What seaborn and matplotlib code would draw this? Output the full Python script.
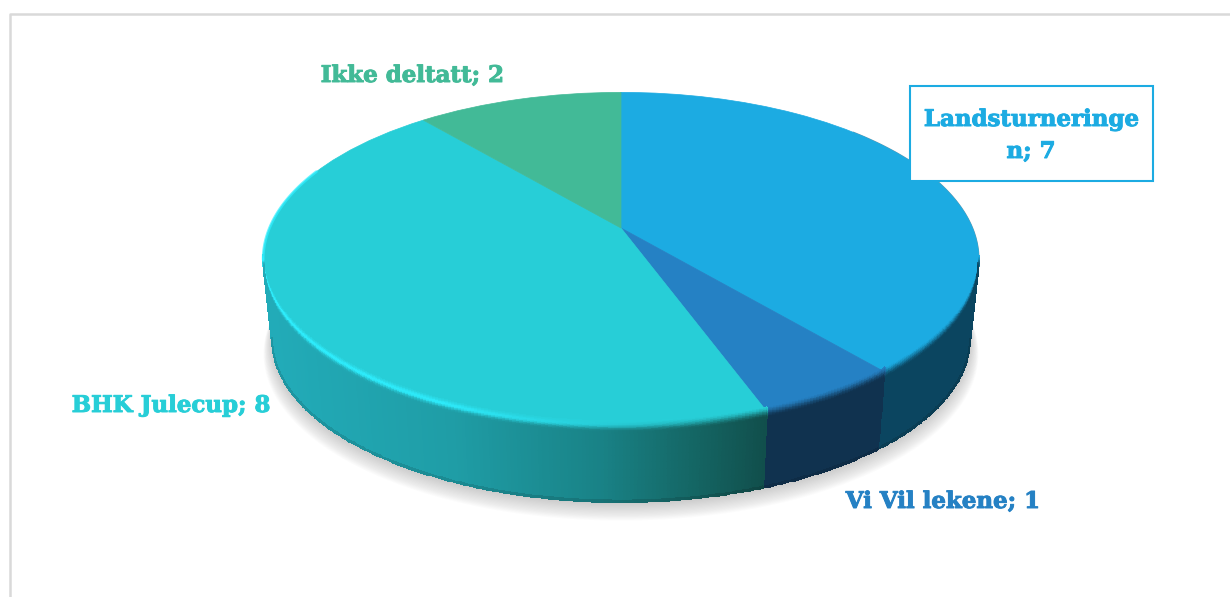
import numpy as np
import matplotlib
matplotlib.use("Agg")
import matplotlib.pyplot as plt
import matplotlib.patheffects as pe
import seaborn as sns
from matplotlib.colors import to_rgb
from matplotlib.patches import Rectangle
from matplotlib.transforms import Transform

categories = ['Landsturneringen', 'Vi Vil lekene', 'BHK Julecup', 'Ikke deltatt']
values = [7, 1, 8, 2]
top_colors = ['#1CABE2', '#2581C4', '#27CED7', '#42BA97']
wall_colors = ['#0B4560', '#10324F', '#1E9EA8', '#2A8C70']
wall_fade = ['#22ABB8', '#1F9DA6', '#198286', '#146462', '#114F4C']

sns.set_theme(style="white")
plt.rcParams['font.family'] = ['DejaVu Serif', 'DejaVu Sans']

# geometrie for den skraa kaken, i piksler
CX, CY = 621.0, 228.0
KX, KY, K = 351.5, 161.0, 0.187
BOTTOM_SCALE, BOTTOM_DROP = 0.975, 81.0


def project(u, v, scale=1.0, drop=0.0):
    d = 1 + K * v
    return CX + scale * KX * u / d, CY + drop - scale * KY * v / d


def rim(theta, scale=1.0, drop=0.0):
    # theta i grader, med klokka fra toppen
    t = np.radians(theta)
    return project(np.sin(t), np.cos(t), scale, drop)


class TiltTransform(Transform):
    input_dims = 2
    output_dims = 2

    def transform_non_affine(self, xy):
        xy = np.asarray(xy, dtype=float)
        x, y = project(xy[:, 0], xy[:, 1])
        return np.column_stack([x, y])


fig, ax = plt.subplots(figsize=(12.3, 5.97), dpi=100)
fig.subplots_adjust(0, 0, 1, 1)

wedges, _ = ax.pie(values, colors=sns.color_palette(top_colors), startangle=90,
                   counterclock=False, radius=1)
tilt = TiltTransform() + ax.transData
for w, c in zip(wedges, top_colors):
    w.set_transform(tilt)
    w.set_edgecolor(c)
    w.set_linewidth(0.5)
    w.set_zorder(5)

ax.set_aspect('auto')
ax.set_xlim(0, 1230)
ax.set_ylim(597, 0)
ax.axis('off')

# myk skygge under kaken
theta_all = np.linspace(0, 360, 361)
for i in range(16):
    sx, sy = rim(theta_all, BOTTOM_SCALE + 0.0016 * i, BOTTOM_DROP + 1 + 0.85 * i)
    ax.fill(sx, sy, color='#555555', alpha=0.019, lw=0, zorder=1)

# sideveggene
edges = np.cumsum([0] + values) / sum(values) * 360
f_rows = np.concatenate([np.linspace(-0.06, 0.10, 18),
                         np.linspace(0.10, 0.97, 10)[1:],
                         np.linspace(0.97, 1.0, 4)[1:]])
F0, F1 = -0.06, 0.085
fade_x = [270, 450, 600, 700, 765]
fade_rgb = np.array([to_rgb(c) for c in wall_fade])
for i, name in enumerate(categories):
    a0, a1 = max(edges[i], 101), min(edges[i + 1], 259)
    if a1 <= a0:
        continue
    th = np.linspace(a0, a1, int((a1 - a0) * 2) + 2)
    xt, yt = rim(th)
    xb, yb = rim(th, BOTTOM_SCALE, BOTTOM_DROP)
    X = np.outer(1 - f_rows, xt) + np.outer(f_rows, xb)
    Y = np.outer(1 - f_rows, yt) + np.outer(f_rows, yb)

    f_mid = (f_rows[:-1] + f_rows[1:]) / 2
    th_mid = (th[:-1] + th[1:]) / 2
    x_mid = (xt[:-1] + xt[1:]) / 2
    top = np.array(to_rgb(top_colors[i]))
    C = np.ones((len(f_mid), len(th_mid), 4))
    if name == 'BHK Julecup':
        wall = np.column_stack([np.interp(x_mid, fade_x, fade_rgb[:, k]) for k in range(3)])
        shine = np.interp(th_mid, [165, 205, 259], [0.0, 0.9, 1.0])
    else:
        wall = np.tile(to_rgb(wall_colors[i]), (len(th_mid), 1))
        shine = np.zeros(len(th_mid))
    bright = np.array(to_rgb('#2EEFFF'))
    for r, f in enumerate(f_mid):
        s = np.clip((f - F0) / (F1 - F0), 0, 1)
        s = s * s * (3 - 2 * s)
        col = top * (1 - s) + wall * s
        bump = (np.exp(-((f - 0.0) / 0.04) ** 2) * shine)[:, None]
        col = col * (1 - bump) + bright * bump
        if f > 0.98:
            col = col * 0.88
        C[r, :, :3] = col
    ax.pcolormesh(X, Y, C, shading='flat', edgecolors='face', linewidth=0.25, zorder=6)

# lys og moerk kant langs toppen
x, y = rim(np.linspace(259, 292, 40))
ax.plot(x, y, color='#2EEFFF', lw=2.0, alpha=0.7, zorder=7)
x, y = rim(np.linspace(48, 101, 60))
ax.plot(x, y, color='#0B4560', lw=1.0, alpha=0.55, zorder=4)

# etiketter
label_style = dict(fontsize=16.5, fontweight='bold', ha='center', va='center', zorder=10)


def label(x, y, txt, color):
    t = ax.text(x, y, txt, color=color, **label_style)
    t.set_path_effects([pe.withStroke(linewidth=0.7, foreground=color)])


label(412, 76, f"{categories[3]}; {values[3]}", top_colors[3])
label(171, 406, f"{categories[2]}; {values[2]}", top_colors[2])
label(943, 502, f"{categories[1]}; {values[1]}", top_colors[1])
ax.add_patch(Rectangle((910, 86), 243, 95, facecolor='white', edgecolor=top_colors[0],
                       lw=1.5, zorder=9))
label(1031, 120, categories[0][:-1], top_colors[0])
label(1031, 152, f"{categories[0][-1]}; {values[0]}", top_colors[0])

# ramme
ax.plot([9.5, 9.5, 1230], [597, 13.5, 13.5], color='#D9D9D9', lw=1.8, zorder=0)

fig.savefig('out.png', dpi=100, facecolor='white')
